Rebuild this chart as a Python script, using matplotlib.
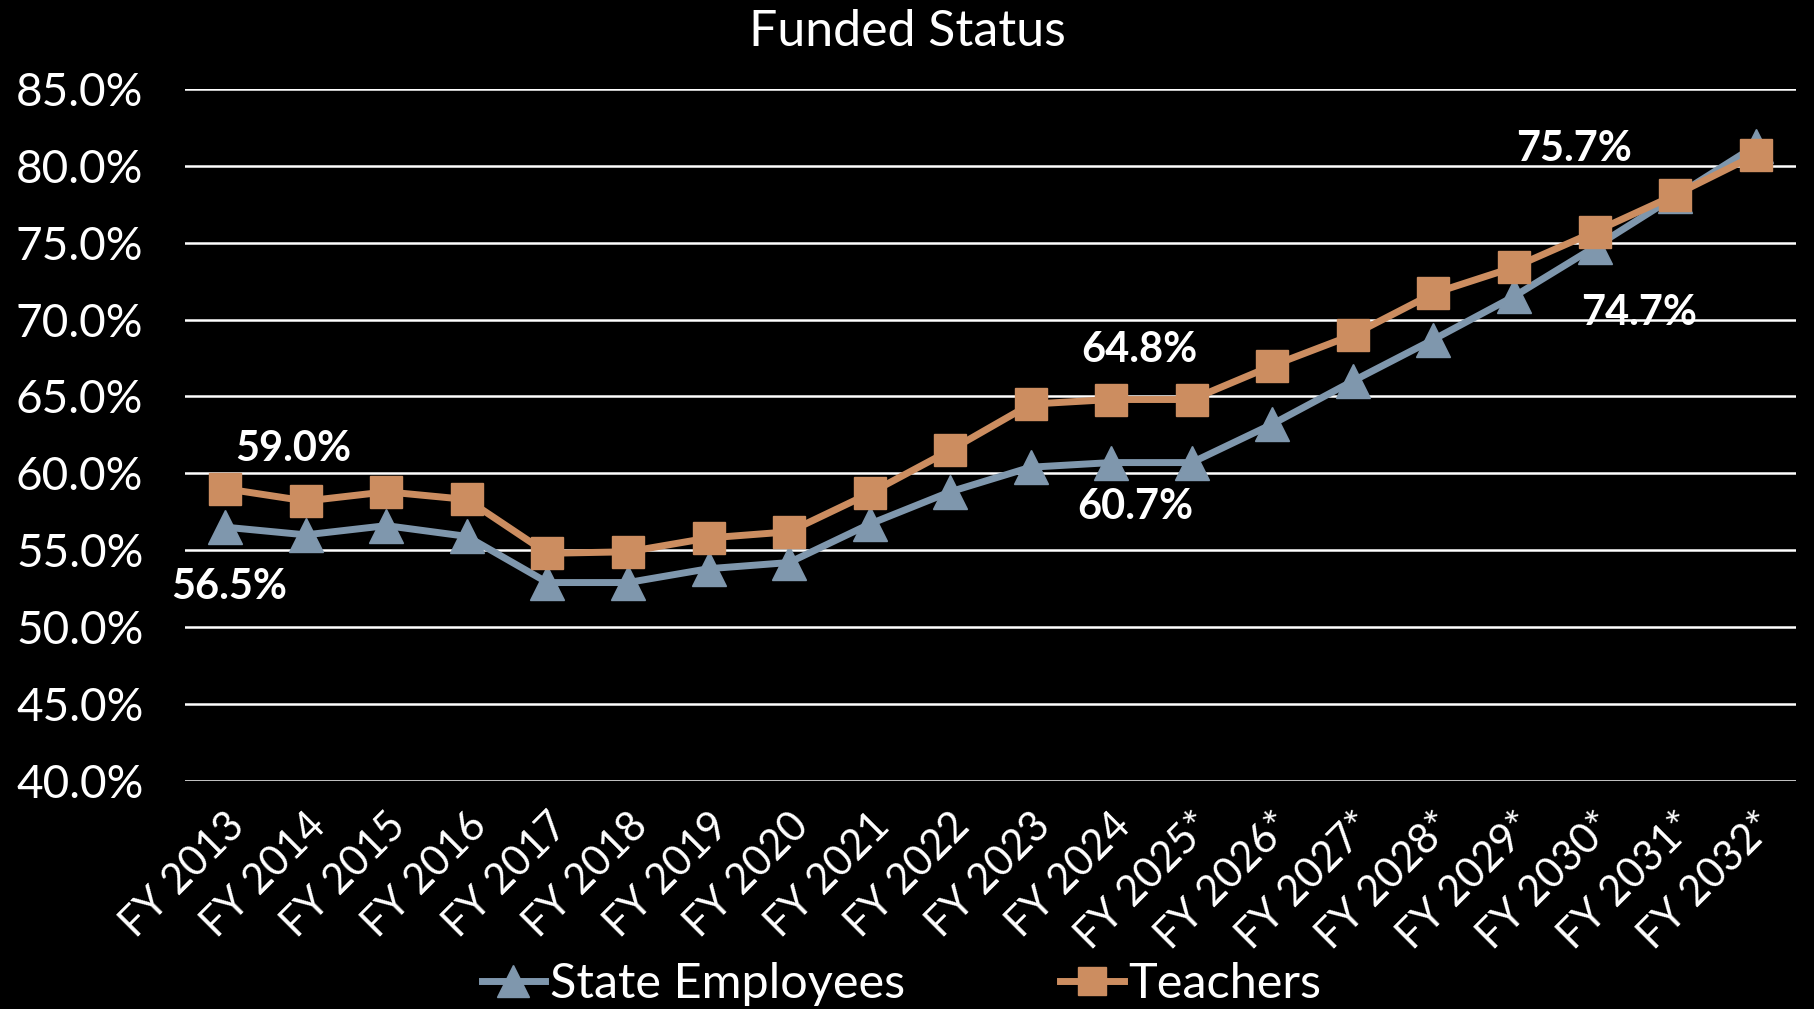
from matplotlib import pyplot as plt

years = ['FY 2013', 'FY 2014', 'FY 2015', 'FY 2016', 'FY 2017', 'FY 2018', 'FY 2019',
         'FY 2020', 'FY 2021', 'FY 2022', 'FY 2023', 'FY 2024', 'FY 2025*', 'FY 2026*',
         'FY 2027*', 'FY 2028*', 'FY 2029*', 'FY 2030*', 'FY 2031*', 'FY 2032*']
state_employees = [56.5, 56.0, 56.6, 55.9, 52.9, 52.9, 53.8, 54.2, 56.7, 58.8,
                   60.4, 60.7, 60.7, 63.2, 66.0, 68.7, 71.5, 74.7, 78.0, 81.3]
teachers = [59.0, 58.2, 58.8, 58.3, 54.8, 54.9, 55.8, 56.2, 58.7, 61.5,
            64.5, 64.8, 64.8, 67.0, 69.0, 71.7, 73.4, 75.7, 78.1, 80.7]

# (series, index, dx, dy) for the callouts
callouts = [(teachers, 0, 0.85, 2.6), (state_employees, 0, 0.05, -3.9),
            (teachers, 11, 0.35, 3.2), (state_employees, 11, 0.3, -2.9),
            (teachers, 17, -0.25, 5.4), (state_employees, 17, 0.55, -4.3)]

plt.rcParams['font.family'] = ['Lato', 'DejaVu Sans']

fig = plt.figure(figsize=(18.14, 10.09), dpi=100, facecolor='black')
ax = fig.add_axes([0.102, 0.226, 0.888, 0.686], facecolor='black')

x = list(range(len(years)))
ax.plot(x, state_employees, color='#7F97AD', lw=5, marker='^', ms=25,
        label='State Employees', zorder=3)
ax.plot(x, teachers, color='#CC8D60', lw=5, marker='s', ms=23,
        label='Teachers', zorder=4)

for series, i, dx, dy in callouts:
    ax.text(i + dx, series[i] + dy, f'{series[i]:.1f}%', color='white',
            fontsize=30, fontweight='bold', ha='center', va='center', zorder=5)

ax.set_xlim(-0.5, len(years) - 0.5)
ax.set_ylim(40, 85)
ax.set_yticks(range(40, 86, 5))
ax.set_yticklabels([f'{v:.1f}%' for v in range(40, 86, 5)])
ax.set_xticks(x)
ax.set_xticklabels(years, rotation=45, ha='right', rotation_mode='anchor')
ax.tick_params(axis='y', colors='white', labelsize=33, length=0, pad=30)
ax.tick_params(axis='x', colors='white', labelsize=30, length=0, pad=18)
ax.grid(axis='y', color='white', lw=1.8)
ax.set_axisbelow(True)
for s in ax.spines.values():
    s.set_visible(False)

fig.text(0.5, 0.968, 'Funded Status', color='white', fontsize=36,
         ha='center', va='center')

fig.legend(loc='center', bbox_to_anchor=(0.497, 0.025), ncol=2, frameon=False,
           fontsize=35, labelcolor='white', handlelength=1.3, handletextpad=0.1,
           columnspacing=3.2, markerscale=0.9)

fig.savefig('out.png', dpi=100, facecolor='black')
